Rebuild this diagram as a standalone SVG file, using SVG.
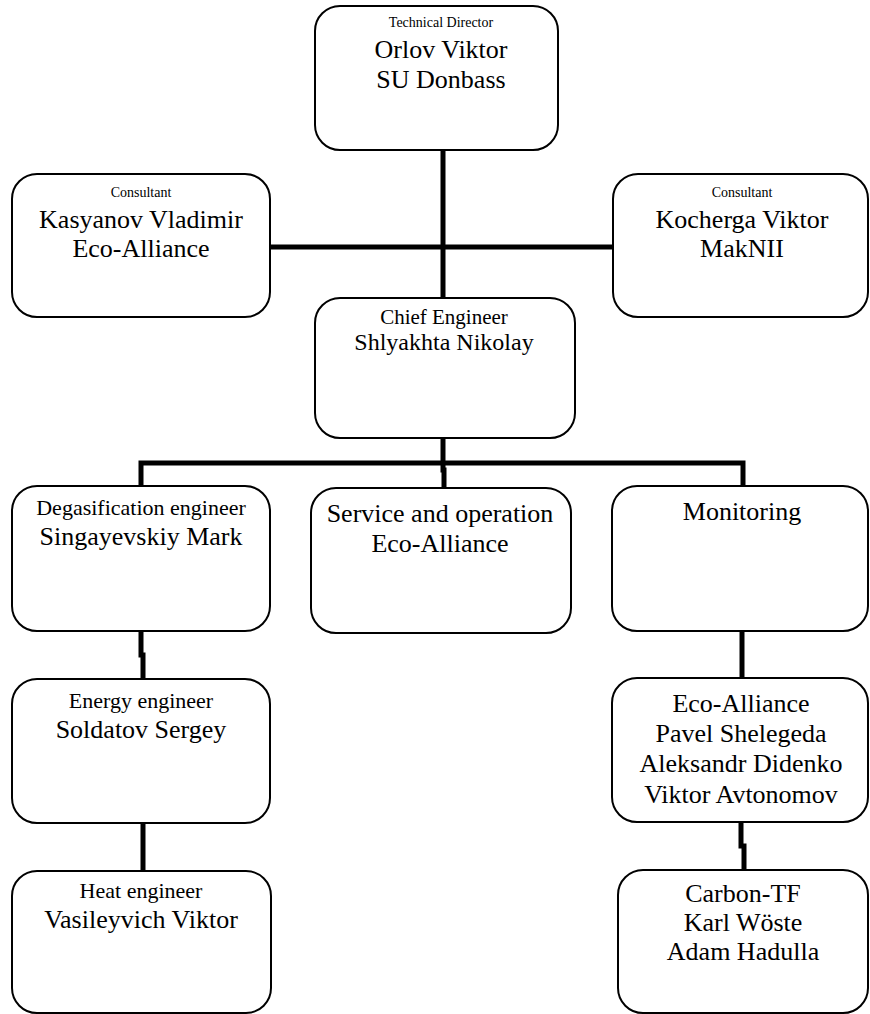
<svg xmlns="http://www.w3.org/2000/svg" width="870" height="1014" viewBox="0 0 870 1014">
<style>
.box{fill:#fff;stroke:#000;stroke-width:2}
text{font-family:"Liberation Serif","Times New Roman",serif;fill:#000;text-anchor:middle}
.s{font-size:14px}
.m{font-size:22px}
.l{font-size:26px}
.c{stroke:#000;stroke-width:5;fill:none}
</style>
<rect width="870" height="1014" fill="#fff"/>
<g id="connectors">
<line class="c" x1="443" y1="150" x2="443" y2="298"/>
<line class="c" x1="270" y1="247" x2="613" y2="247"/>
<line class="c" x1="443" y1="438" x2="443" y2="463"/>
<polyline class="c" points="141,486 141,463 743,463 743,486"/>
<polyline class="c" points="443,463 443,470 444,470 444,488"/>
<polyline class="c" points="141,631 141,655 143,655 143,679"/>
<line class="c" x1="143" y1="823" x2="143" y2="871"/>
<line class="c" x1="742" y1="631" x2="742" y2="678"/>
<polyline class="c" points="741,822 741,846 744,846 744,870"/>
</g>
<g id="technical-director">
<rect class="box" x="315" y="6" width="243" height="144" rx="25"/>
<text class="s" x="441" y="27">Technical Director</text>
<text class="l" x="441" y="58">Orlov Viktor</text>
<text class="l" x="441" y="88">SU Donbass</text>
</g>
<g id="consultant-kasyanov">
<rect class="box" x="12" y="174" width="258" height="143" rx="25"/>
<text class="s" x="141" y="197">Consultant</text>
<text class="l" x="141" y="228">Kasyanov Vladimir</text>
<text class="l" x="141" y="257">Eco-Alliance</text>
</g>
<g id="consultant-kocherga">
<rect class="box" x="613" y="174" width="255" height="143" rx="25"/>
<text class="s" x="742" y="197">Consultant</text>
<text class="l" x="742" y="228">Kocherga Viktor</text>
<text class="l" x="742" y="257">MakNII</text>
</g>
<g id="chief-engineer">
<rect class="box" x="315" y="298" width="260" height="140" rx="25"/>
<text x="444" y="324" font-size="21">Chief Engineer</text>
<text x="444" y="350" font-size="24">Shlyakhta Nikolay</text>
</g>
<g id="degasification">
<rect class="box" x="12" y="486" width="258" height="145" rx="25"/>
<text class="m" x="141" y="515">Degasification engineer</text>
<text class="l" x="141" y="545">Singayevskiy Mark</text>
</g>
<g id="service">
<rect class="box" x="311" y="488" width="260" height="145" rx="25"/>
<text class="l" x="440" y="522">Service and operation</text>
<text class="l" x="440" y="552">Eco-Alliance</text>
</g>
<g id="monitoring">
<rect class="box" x="612" y="486" width="256" height="145" rx="25"/>
<text class="l" x="742" y="520">Monitoring</text>
</g>
<g id="energy">
<rect class="box" x="12" y="679" width="258" height="144" rx="25"/>
<text class="m" x="141" y="708">Energy engineer</text>
<text class="l" x="141" y="738">Soldatov Sergey</text>
</g>
<g id="eco-alliance-team">
<rect class="box" x="612" y="678" width="256" height="144" rx="25"/>
<text class="l" x="741" y="712">Eco-Alliance</text>
<text class="l" x="741" y="742">Pavel Shelegeda</text>
<text class="l" x="741" y="772">Aleksandr Didenko</text>
<text class="l" x="741" y="803">Viktor Avtonomov</text>
</g>
<g id="heat">
<rect class="box" x="12" y="871" width="259" height="142" rx="25"/>
<text class="m" x="141" y="898">Heat engineer</text>
<text class="l" x="141" y="928">Vasileyvich Viktor</text>
</g>
<g id="carbon-tf">
<rect class="box" x="618" y="870" width="250" height="143" rx="25"/>
<text class="l" x="743" y="902">Carbon-TF</text>
<text class="l" x="743" y="931">Karl Wöste</text>
<text class="l" x="743" y="960">Adam Hadulla</text>
</g>
</svg>
